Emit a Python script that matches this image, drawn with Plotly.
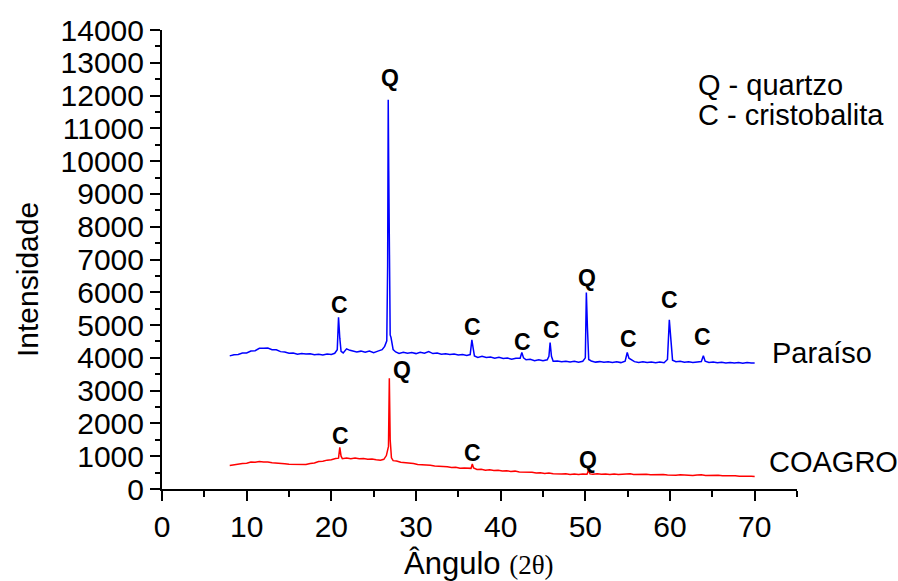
import plotly.graph_objects as go

# Difratogramas de raios X (2θ em graus, intensidade em contagens)
paraiso_angle = [
    8.0, 8.5, 9.0, 9.5, 10.0, 10.5, 11.0, 11.5, 12.0, 12.5, 13.0, 13.5, 14.0, 14.5,
    15.0, 15.5, 16.0, 16.5, 17.0, 17.5, 18.0, 18.5, 19.0, 19.5, 20.0, 20.4, 20.7,
    20.85, 21.0, 21.15, 21.4, 21.8, 22.2, 22.6, 23.0, 23.5, 24.0, 24.5, 25.0, 25.5,
    26.0, 26.3, 26.55, 26.65, 26.72, 26.78, 26.85, 26.95, 27.05, 27.15, 27.3, 27.6,
    28.0, 28.5, 29.0, 29.5, 30.0, 30.5, 31.0, 31.5, 32.0, 32.5, 33.0, 33.5, 34.0,
    34.5, 35.0, 35.5, 36.0, 36.4, 36.6, 36.75, 36.9, 37.3, 37.8, 38.3, 38.8, 39.3,
    39.8, 40.3, 40.8, 41.3, 41.8, 42.3, 42.5, 42.7, 43.0, 43.5, 44.0, 44.5, 45.0,
    45.5, 45.7, 45.84, 46.0, 46.2, 46.7, 47.2, 47.7, 48.2, 48.7, 49.2, 49.7, 50.0,
    50.12, 50.25, 50.4, 50.7, 51.2, 51.7, 52.2, 52.7, 53.2, 53.7, 54.2, 54.7, 54.95,
    55.15, 55.4, 55.8, 56.3, 56.8, 57.3, 57.8, 58.3, 58.8, 59.3, 59.7, 59.92, 60.1,
    60.3, 60.7, 61.2, 61.7, 62.2, 62.7, 63.2, 63.7, 63.94, 64.15, 64.6, 65.1, 65.6,
    66.1, 66.6, 67.1, 67.6, 68.1, 68.6, 69.1, 69.6, 70.0,
]
paraiso_counts = [
    4060, 4095, 4100, 4145, 4150, 4210, 4220, 4290, 4295, 4300, 4250, 4245, 4190, 4180,
    4140, 4150, 4110, 4135, 4120, 4125, 4095, 4110, 4090, 4115, 4105, 4140, 4250,
    5240, 4600, 4200, 4150, 4275, 4230, 4215, 4180, 4205, 4170, 4210, 4160, 4205,
    4250, 4350, 4520, 6800, 11870, 9700, 6000, 4700, 4620, 4450, 4250, 4180,
    4135, 4170, 4140, 4160, 4130, 4170, 4140, 4190, 4130, 4145, 4110, 4125, 4100,
    4115, 4085, 4105, 4075, 4100, 4550, 4300, 4060, 4015, 4045, 4010, 4025, 3990,
    4020, 3980, 3995, 3955, 3985, 3990, 4165, 4000, 3940, 3955, 3915, 3945, 3910,
    3940, 4050, 4470, 4050, 3895, 3905, 3880, 3900, 3875, 3895, 3865, 3895, 4000,
    5990, 4900, 3950, 3905, 3870, 3885, 3865, 3880, 3855, 3880, 3855, 3900, 4165,
    3990, 3945, 3885, 3860, 3880, 3855, 3875, 3850, 3875, 3850, 3950, 5160, 4400,
    3930, 3880, 3895, 3865, 3880, 3860, 3875, 3890, 4065, 3900, 3860, 3870, 3850,
    3865, 3845, 3860, 3840, 3855, 3835, 3855, 3840, 3840,
]

coagro_angle = [
    8.0, 8.5, 9.0, 9.5, 10.0, 10.5, 11.0, 11.5, 12.0, 12.5, 13.0, 13.5, 14.0, 14.5,
    15.0, 15.5, 16.0, 16.5, 17.0, 17.5, 18.0, 18.5, 19.0, 19.5, 20.0, 20.5, 20.85,
    21.0, 21.15, 21.3, 21.8, 22.3, 22.8, 23.3, 23.8, 24.3, 24.8, 25.3, 25.8, 26.2,
    26.5, 26.75, 26.85, 26.95, 27.1, 27.3, 27.7, 28.2, 28.7, 29.2, 29.7, 30.2, 30.7,
    31.2, 31.7, 32.2, 32.7, 33.2, 33.7, 34.2, 34.7, 35.2, 35.7, 36.2, 36.5, 36.65,
    36.8, 37.2, 37.7, 38.2, 38.7, 39.2, 39.7, 40.2, 40.7, 41.2, 41.7, 42.2, 42.7,
    43.2, 43.7, 44.2, 44.7, 45.2, 45.7, 46.2, 46.7, 47.2, 47.7, 48.2, 48.7, 49.2,
    49.7, 50.2, 50.37, 50.55, 50.9, 51.4, 51.9, 52.4, 52.9, 53.4, 53.9, 54.4, 54.9,
    55.3, 55.7, 56.2, 56.7, 57.2, 57.7, 58.2, 58.7, 59.2, 59.7, 60.2, 60.7, 61.2,
    61.7, 62.2, 62.7, 63.2, 63.7, 64.2, 64.7, 65.2, 65.7, 66.2, 66.7, 67.2, 67.7,
    68.2, 68.7, 69.2, 69.6, 70.0,
]
coagro_counts = [
    720, 745, 750, 780, 785, 820, 815, 840, 825, 825, 800, 795, 770, 770,
    755, 755, 740, 745, 750, 780, 795, 840, 845, 880, 890, 930, 940,
    1270, 1000, 925, 945, 925, 945, 920, 930, 910, 915, 895, 880, 905,
    1020, 1300, 3380, 1500, 950, 865, 855, 815, 805, 775, 775, 745, 745,
    725, 725, 705, 705, 685, 675, 655, 660, 635, 640, 620, 630, 760,
    640, 595, 600, 575, 585, 565, 575, 550, 555, 535, 545, 520, 520,
    500, 508, 490, 495, 475, 485, 462, 470, 455, 462, 445, 455, 445,
    458, 448, 570, 460, 450, 462, 448, 460, 445, 458, 445, 452, 445,
    465, 445, 452, 438, 447, 435, 442, 430, 440, 425, 435, 422, 432,
    420, 430, 415, 425, 432, 415, 422, 410, 418, 405, 412, 398, 405,
    392, 398, 385, 390, 380,
]

# Identificação das fases: posição do rótulo (2θ, intensidade) e fase
paraiso_phase_x = [26.96, 20.94, 36.65, 42.56, 45.99, 50.2, 55.07, 59.9, 63.78]
paraiso_phase_y = [12540, 5620, 4950, 4490, 4860, 6440, 4580, 5750, 4640]
paraiso_phase = ["Q", "C", "C", "C", "C", "Q", "C", "C", "C"]

coagro_phase_x = [28.35, 21.14, 36.73, 50.35]
coagro_phase_y = [3640, 1625, 1107, 893]
coagro_phase = ["Q", "C", "C", "Q"]

sample_names = ["Paraíso", "COAGRO"]
sample_label_x = [71.84, 71.45]
sample_label_y = [4155, 811]

legend_lines = ["Q - quartzo", "C - cristobalita"]
legend_y = [12330, 11410]

SANS = "Liberation Sans, Arial, sans-serif"
SERIF = "Liberation Serif, Times New Roman, serif"

fig = go.Figure()
fig.add_trace(go.Scatter(x=paraiso_angle, y=paraiso_counts, mode="lines",
                         line=dict(color="#0000FF", width=1.5), showlegend=False))
fig.add_trace(go.Scatter(x=coagro_angle, y=coagro_counts, mode="lines",
                         line=dict(color="#FF0000", width=1.5), showlegend=False))

annotations = []
for xs, ys, labels in [(paraiso_phase_x, paraiso_phase_y, paraiso_phase),
                       (coagro_phase_x, coagro_phase_y, coagro_phase)]:
    for x, y, t in zip(xs, ys, labels):
        annotations.append(dict(x=x, y=y, text=f"<b>{t}</b>", showarrow=False,
                                xanchor="center", yanchor="middle",
                                font=dict(family=SANS, size=23, color="black")))
for name, x, y in zip(sample_names, sample_label_x, sample_label_y):
    annotations.append(dict(x=x, y=y, text=name, showarrow=False,
                            xanchor="left", yanchor="middle",
                            font=dict(family=SANS, size=29, color="black")))
for line, y in zip(legend_lines, legend_y):
    annotations.append(dict(x=63.1, y=y, text=line, showarrow=False,
                            xanchor="left", yanchor="middle",
                            font=dict(family=SANS, size=29, color="black")))

# Títulos dos eixos
annotations.append(dict(
    xref="paper", yref="paper", x=(478.5 - 162) / 635, y=(581 - 92 - 563) / 459,
    text=f"Ângulo <span style='font-family:{SERIF};font-size:27px'>(2θ)</span>",
    showarrow=False, xanchor="center", yanchor="middle",
    font=dict(family=SANS, size=31, color="black")))
annotations.append(dict(
    xref="paper", yref="paper", x=(27 - 162) / 635, y=(581 - 92 - 280) / 459,
    text="Intensidade", textangle=-90, showarrow=False,
    xanchor="center", yanchor="middle",
    font=dict(family=SANS, size=30, color="black")))

fig.update_layout(
    width=898, height=581,
    margin=dict(l=162, r=101, t=30, b=92, autoexpand=False),
    paper_bgcolor="white", plot_bgcolor="white",
    font=dict(family=SANS, size=30, color="black"),
    annotations=annotations,
)
fig.update_xaxes(
    range=[0, 75], tickvals=[0, 10, 20, 30, 40, 50, 60, 70],
    ticks="outside", ticklen=10, tickwidth=2, tickcolor="black",
    showline=True, linewidth=2, linecolor="black", showgrid=False, zeroline=False,
    minor=dict(ticks="outside", ticklen=6, tickwidth=2, tickcolor="black",
               tickvals=[5, 15, 25, 35, 45, 55, 65, 75]),
    tickfont=dict(family=SANS, size=30),
)
fig.update_yaxes(
    range=[0, 14000], dtick=1000, tickformat="d",
    ticks="outside", ticklen=10, tickwidth=2, tickcolor="black",
    showline=True, linewidth=2, linecolor="black", showgrid=False, zeroline=False,
    minor=dict(ticks="outside", ticklen=5, tickwidth=2, tickcolor="black", dtick=500),
    tickfont=dict(family=SANS, size=30),
)

fig.write_html("out.html")
